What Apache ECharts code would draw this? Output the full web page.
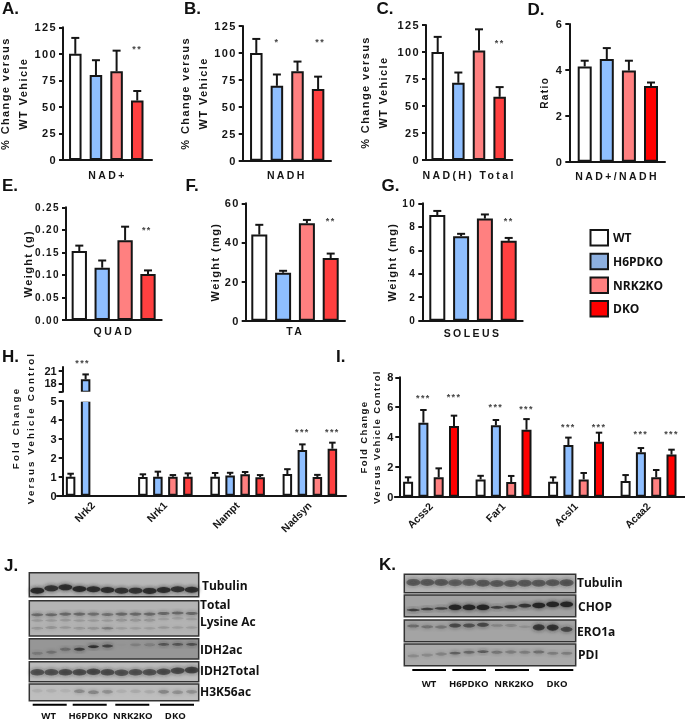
<!DOCTYPE html>
<html><head><meta charset="utf-8">
<style>
html,body{margin:0;padding:0;background:#fff}
#c{width:685px;height:720px;filter:blur(0.3px)}
#c text{letter-spacing:1.4px}
#c text[style*="10.5px"]{letter-spacing:2.4px}
#c text[style*="9.8px"]{letter-spacing:2.1px}
#c text[style*="Arial"],#c text[style*="Open Sans"]{letter-spacing:0}
</style>
<script src="https://cdn.jsdelivr.net/npm/echarts@6/dist/echarts.min.js"></script>
</head><body><div id="c"></div>
<script>
// ---------- data ----------
const genotypes = ['WT','H6PDKO','NRK2KO','DKO'];
const nadPlus = [100,80,83.5,56],     nadPlusTop = [115,94,103,65];
const nadh = [100,69.5,83,66.5],      nadhTop = [113,80,92,78];
const nadTotal = [100,71.5,101.5,58.5], nadTotalTop = [114,81,121,67.5];
const ratio = [4.15,4.47,3.97,3.3],   ratioTop = [4.4,4.95,4.4,3.45];
const quad = [.153,.116,.177,.102],   quadTop = [.165,.132,.207,.11];
const ta = [44,24.5,49.8,32],         taTop = [49,25.5,51.5,34.3];
const soleus = [9,7.2,8.7,6.8],       soleusTop = [9.35,7.4,9.05,7.05];

const genesH = ['Nrk2','Nrk1','Nampt','Nadsyn'];
const hWT  = [1,.99,1,1.14],      hWTTop  = [1.16,1.13,1.2,1.4];
const hH6  = [19,1,1.07,2.41],    hH6Top  = [20.2,1.27,1.21,2.71];
const hNRK = [null,1,1.13,.99],   hNRKTop = [null,1.09,1.25,1.1];
const hDKO = [null,1,.98,2.48],   hDKOTop = [null,1.18,1.09,2.8];

const genesI = ['Acss2','Far1','Acsl1','Acaa2'];
const iWT  = [1,1.16,1,1.05],      iWTTop  = [1.3,1.4,1.3,1.45];
const iH6  = [4.96,4.78,3.46,2.97], iH6Top  = [5.81,5.14,3.96,3.26];
const iNRK = [1.3,.98,1.16,1.3],   iNRKTop = [1.9,1.39,1.59,1.79];
const iDKO = [4.74,4.49,3.69,2.82], iDKOTop = [5.43,5.2,4.29,3.15];

// blot band height-in-box and darkness per lane (12 lanes)
const jTubY=[.75,.65,.61,.68,.69,.72,.75,.75,.76,.72,.69,.71], jTubD=[.9,.8,.85,.9,.85,.85,.8,.8,.85,.85,.8,.85];
const jLys1Y=[.4,.4,.38,.38,.38,.39,.38,.38,.38,.36,.35,.36], jLys1D=[.42,.42,.42,.42,.38,.38,.42,.42,.42,.42,.42,.42];
const jLys2Y=[.56,.56,.55,.56,.56,.56,.55,.55,.55,.52,.5,.52], jLys2D=[.12,.12,.12,.12,.12,.12,.16,.16,.16,.1,.1,.1];
const jLys3Y=[.78,.76,.76,.78,.78,.78,.78,.78,.78,.76,.76,.76], jLys3D=[.15,.18,.13,.15,.18,.3,.1,.1,.1,.13,.1,.1];
const jIdhY=[.72,.66,.52,.52,.39,.36,.3,.3,.3,.28,.28,.28], jIdhD=[.2,.25,.3,.7,.85,.65,.02,.12,.16,.5,.5,.55];
const jTotY=[.53,.53,.53,.53,.5,.53,.55,.53,.53,.5,.45,.42], jTotD=[.55,.55,.58,.58,.6,.58,.55,.55,.55,.58,.6,.65];
const jH3Y=[.4,.4,.4,.44,.5,.46,.44,.44,.46,.46,.5,.46], jH3D=[.06,.06,.05,.25,.28,.22,.06,.08,.08,.28,.22,.22];
const kTubY=[.44,.44,.44,.46,.44,.48,.5,.5,.48,.48,.46,.46], kTubD=[.45,.45,.45,.42,.42,.45,.45,.45,.45,.45,.45,.5];
const kChopY=[.69,.65,.62,.57,.57,.57,.57,.54,.49,.48,.43,.43], kChopD=[.7,.7,.7,.95,.95,.95,.7,.75,.75,.95,.95,.95], kChopH=[2.5,2.5,2.5,5.5,5.5,5.5,2.5,3.5,3.5,5.5,5.5,5.5];
const kEroY=[.28,.31,.32,.25,.25,.22,.25,.25,.31,.34,.35,.43], kEroD=[.35,.3,.28,.6,.55,.6,.2,.18,.1,.7,.75,.6], kEroH=[3,3,3,4,4,4,2.5,2.5,2.5,6,6,5];
const kPdiY=[.55,.51,.46,.42,.38,.35,.38,.37,.38,.37,.43,.43], kPdiD=[.18,.18,.22,.45,.4,.5,.3,.25,.25,.35,.25,.25];

// ---------- style ----------
const COLORS=['#ffffff','#8fbfff','#ff8080','#ff4040'];
const COLORS2=['#ffffff','#8fbfff','#ff8080','#ff0000'];
const INK='#151515';
const SP='"Liberation Sans"', TIGHT='Arial,"Liberation Sans"', LBL='"Open Sans"';

const grid=[],xAxis=[],yAxis=[],series=[],graphic=[];

function errSeries(xi,yi,items,cap,offset){
  series.push({type:'custom',xAxisIndex:xi,yAxisIndex:yi,z:1,silent:true,clip:false,
    encode:{x:0,y:1},data:items,
    renderItem(p,api){
      const off=offset?offset(api.value(3)):0;
      const t=api.coord([api.value(0),api.value(1)]), b=api.coord([api.value(0),api.value(2)]);
      const x=t[0]+off, ls={stroke:INK,lineWidth:2};
      return {type:'group',children:[
        {type:'line',shape:{x1:x,y1:t[1],x2:x,y2:b[1]},style:ls},
        {type:'line',shape:{x1:x-cap/2,y1:t[1],x2:x+cap/2,y2:t[1]},style:ls}]};
    }});
}
function starSeries(xi,yi,items,offset){
  series.push({type:'custom',xAxisIndex:xi,yAxisIndex:yi,z:3,silent:true,clip:false,
    encode:{x:0,y:1},data:items,
    renderItem(p,api){
      const off=offset?offset(api.value(3)):0;
      const c=api.coord([api.value(0),api.value(1)]);
      const s=items[p.dataIndex][2];
      return {type:'text',style:{text:s,x:c[0]+off,y:c[1],align:'center',verticalAlign:'middle',
        fill:'#444',font:'bold 9px '+SP}};
    }});
}
function simplePanel(o){
  const i=grid.length;
  grid.push({outerBoundsMode:'none',left:o.l,top:o.t,width:o.r-o.l,height:o.b-o.t});
  xAxis.push({gridIndex:i,type:'value',containShape:false,min:(o.l-o.c0)/o.step,max:(o.r-o.c0)/o.step,
    axisLine:{show:true,onZero:false,lineStyle:{color:INK,width:2}},axisTick:{show:false},axisLabel:{show:false},splitLine:{show:false},
    name:o.xname,nameLocation:'middle',nameGap:o.xgap,nameTextStyle:{color:INK,fontFamily:SP,fontWeight:'bold',fontSize:10.5}});
  yAxis.push({gridIndex:i,type:'value',min:0,max:o.max,interval:o.int,
    axisLine:{show:true,onZero:false,lineStyle:{color:INK,width:2}},axisTick:{show:true,length:4,lineStyle:{color:INK,width:2}},splitLine:{show:false},
    axisLabel:{color:INK,fontFamily:SP,fontWeight:'bold',fontSize:o.tickSize||11,margin:6,formatter:o.fmt},
    name:o.yname,nameLocation:'middle',nameRotate:90,nameGap:o.ygap,
    nameTextStyle:{color:INK,fontFamily:SP,fontWeight:'bold',fontSize:o.nameSize||11,lineHeight:o.lh||18}});
  errSeries(i,i,o.vals.map((v,k)=>[k,o.tops[k],v]),o.cap||8);
  series.push({type:'bar',name:o.xname,xAxisIndex:i,yAxisIndex:i,z:2,barWidth:o.bw,silent:true,
    data:o.vals.map((v,k)=>({value:[k,v],itemStyle:{color:(o.colors||COLORS)[k],borderColor:INK,borderWidth:2}}))});
  if(o.stars) starSeries(i,i,o.stars);
}
simplePanel({l:63,r:152,t:27.3,b:160,c0:75.3,step:20.65,max:125,int:25,bw:12.5,vals:nadPlus,tops:nadPlusTop,xname:'NAD+',xgap:9,yname:'% Change versus\nWT Vehicle',ygap:31,stars:[[3,104.5,'**']]});
simplePanel({l:242.7,r:331,t:26,b:160.7,c0:256.3,step:20.6,max:125,int:25,bw:12.5,vals:nadh,tops:nadhTop,xname:'NADH',xgap:8.3,yname:'% Change versus\nWT Vehicle',ygap:31,stars:[[1,110,'*'],[3.1,110,'**']]});
simplePanel({l:426,r:512.3,t:25,b:160,c0:437.7,step:20.65,max:125,int:25,bw:12.5,vals:nadTotal,tops:nadTotalTop,xname:'NAD(H) Total',xgap:9,yname:'% Change versus\nWT Vehicle',ygap:34,stars:[[3,108,'**']]});
simplePanel({l:569.3,r:665,t:24,b:161.7,c0:584.7,step:22.1,max:6,int:2,bw:14,vals:ratio,tops:ratioTop,xname:'NAD+/NADH',xgap:8.3,yname:'Ratio',ygap:14,colors:COLORS2,nameSize:10});
simplePanel({l:66,r:161.7,t:207.3,b:320,c0:79.3,step:22.9,max:.25,int:.05,bw:15.3,vals:quad,tops:quadTop,xname:'QUAD',xgap:5.7,yname:'Weight (g)',ygap:28,fmt:v=>v.toFixed(2),stars:[[2.95,.2,'**']],tickSize:10});
simplePanel({l:245.7,r:345,t:203.3,b:320.7,c0:259.3,step:23.8,max:60,int:20,bw:16,vals:ta,tops:taTop,xname:'TA',xgap:5,yname:'Weight (mg)',ygap:20,stars:[[3,51,'**']]});
simplePanel({l:422.3,r:522.7,t:203.3,b:320.7,c0:437.3,step:23.8,max:10,int:2,bw:16,vals:soleus,tops:soleusTop,xname:'SOLEUS',xgap:6.6,yname:'Weight (mg)',ygap:21,stars:[[3,8.5,'**']],tickSize:10});

function groupedPanel(o){
  const i=grid.length;
  grid.push({outerBoundsMode:'none',left:o.l,top:o.t,width:o.w,height:o.h});
  xAxis.push({gridIndex:i,type:'category',data:o.cats,
    axisLine:{lineStyle:{color:INK,width:2}},axisTick:{alignWithLabel:true,length:4,lineStyle:{color:INK,width:2}},
    axisLabel:{rotate:45,color:INK,fontFamily:TIGHT,fontWeight:'bold',fontSize:10.5,margin:8,interval:0}});
  yAxis.push({gridIndex:i,type:'value',min:0,max:o.max,interval:o.int,offset:o.yoff,
    axisLine:{show:true,lineStyle:{color:INK,width:2}},axisTick:{show:true,length:4,lineStyle:{color:INK,width:2}},splitLine:{show:false},
    axisLabel:{color:INK,fontFamily:TIGHT,fontWeight:'bold',fontSize:11,margin:6},
    name:o.yname||'',nameLocation:'middle',nameRotate:90,nameGap:o.ygap||0,
    nameTextStyle:{color:INK,fontFamily:SP,fontWeight:'bold',fontSize:9.5,lineHeight:13.5}});
  const off=s=>(s-1.5)*o.step;
  o.sets.forEach((set,s)=>{
    series.push({type:'bar',name:genotypes[s],xAxisIndex:i,yAxisIndex:i,z:2,silent:true,
      barWidth:o.bw,barGap:o.gap,
      itemStyle:{color:o.colors[s],borderColor:INK,borderWidth:2},data:set});
    const items=[];
    set.forEach((v,c)=>{ if(v!=null && o.tops[s][c]<=o.max) items.push([c,o.tops[s][c],v,s]); });
    errSeries(i,i,items,o.cap,off);
  });
  if(o.stars) starSeries(i,i,o.stars,off);
  return i;
}
groupedPanel({l:57,t:401,w:289,h:94.7,cats:genesH,max:5,int:1,yoff:-5.7,bw:9.5,gap:'58%',step:15,cap:6.5,colors:COLORS,
  sets:[hWT,hH6,hNRK,hDKO],tops:[hWTTop,hH6Top,hNRKTop,hDKOTop],
  stars:[[3,3.38,'***',1],[3,3.38,'***',3]]});
// broken upper segment of panel H
{
  const i=grid.length;
  grid.push({outerBoundsMode:'none',left:57,top:367,width:289,height:24.7});
  xAxis.push({gridIndex:i,type:'category',data:genesH,show:false});
  yAxis.push({gridIndex:i,type:'value',min:16,max:22,offset:-5.7,
    axisLine:{show:true,lineStyle:{color:INK,width:2}},
    axisTick:{show:true,length:4,customValues:[16,18,21],lineStyle:{color:INK,width:2}},splitLine:{show:false},
    axisLabel:{customValues:[18,21],color:INK,fontFamily:TIGHT,fontWeight:'bold',fontSize:11,margin:6}});
  const off=s=>(s-1.5)*15;
  [[null,null,null,null],hH6.map(v=>v>=16?v:null),[null,null,null,null],[null,null,null,null]].forEach((set,s)=>{
    series.push({type:'bar',name:genotypes[s],xAxisIndex:i,yAxisIndex:i,z:2,silent:true,barWidth:9.5,barGap:'58%',
      itemStyle:{color:COLORS[s],borderColor:INK,borderWidth:2},data:set});
  });
  errSeries(i,i,[[0,hH6Top[0],hH6[0],1]],6.5,off);
  starSeries(i,i,[[0,23,'***',0.8]],off);
}
groupedPanel({l:394.8,t:377.3,w:290,h:119.4,cats:genesI,max:8,int:2,yoff:-4.5,bw:10,gap:'53%',step:15.3,cap:6.5,colors:COLORS2,
  sets:[iWT,iH6,iNRK,iDKO],tops:[iWTTop,iH6Top,iNRKTop,iDKOTop],yname:'Fold Change\nVersus Vehicle Control',ygap:15,
  stars:[[0,6.64,'***',1],[0,6.7,'***',3],[1,6.01,'***',1],[1,5.9,'***',3],[2,4.67,'***',1],[2,4.69,'***',3],[3,4.22,'***',1],[3,4.22,'***',3]]});

// ---------- blots ----------
function blot(box,bg,rows,x0,dx,bw){
  const i=grid.length;
  grid.push({outerBoundsMode:'none',show:true,left:box[0],top:box[1],width:box[2]-box[0],height:box[3]-box[1],backgroundColor:bg,borderColor:'#333',borderWidth:1.5});
  xAxis.push({gridIndex:i,type:'value',show:false,min:(box[0]-x0)/dx,max:(box[2]-x0)/dx});
  yAxis.push({gridIndex:i,type:'value',show:false,min:0,max:1,inverse:true});
  rows.forEach(r=>{
    series.push({type:'scatter',xAxisIndex:i,yAxisIndex:i,silent:true,z:2,
      data:r.y.map((y,k)=>({value:[k,y],symbolSize:[bw,Array.isArray(r.h)?r.h[k]:r.h],
        itemStyle:{color:'#222',opacity:r.d[k],shadowBlur:4,shadowColor:'#222'}}))});
  });
}
const JX=37.3,JD=14.04,KX=413.3,KD=13.94;
blot([29.3,572.7,198.7,596.7],'#b8b8b8',[{y:jTubY,d:jTubD,h:6}],JX,JD,14);
blot([29.3,600.7,198.7,636],'#b4b4b4',[{y:jLys1Y,d:jLys1D,h:3},{y:jLys2Y,d:jLys2D,h:2.5},{y:jLys3Y,d:jLys3D,h:2.5}],JX,JD,12);
blot([29.3,638.7,198.7,659],'#969696',[{y:jIdhY,d:jIdhD,h:2.8}],JX,JD,11);
blot([29.3,661.7,198.7,681.7],'#bcbcbc',[{y:jTotY,d:jTotD,h:6.5}],JX,JD,14);
blot([29.3,684,198.7,700.7],'#bebebe',[{y:jH3Y,d:jH3D,h:3.5}],JX,JD,11);
blot([404.3,574.3,575.7,592.7],'#b4b4b4',[{y:kTubY,d:kTubD,h:7}],KX,KD,14);
blot([404.3,595,575.7,616.7],'#a2a2a2',[{y:kChopY,d:kChopD,h:kChopH}],KX,KD,13);
blot([404.3,620,575.7,641.7],'#a4a4a4',[{y:kEroY,d:kEroD,h:kEroH}],KX,KD,12);
blot([404.3,644,575.7,665.7],'#aaaaaa',[{y:kPdiY,d:kPdiD,h:2.8}],KX,KD,11.5);

const lbl=(t,x,y,size,align)=>graphic.push({type:'text',x,y,style:{text:t,fill:'#111',font:'bold '+(size||12)+'px '+LBL,align:align||'left',verticalAlign:'middle'}});
[['Tubulin',202,585],['Total',200,604],['Lysine Ac',200,621],['IDH2ac',200,649],['IDH2Total',200,670],['H3K56ac',200,691],
 ['Tubulin',577,582.7],['CHOP',578,606.7],['ERO1a',577,631.7],['PDI',578,654.3]].forEach(a=>lbl(a[0],a[1],a[2]));
[['WT',48.7,715],['H6PDKO',88.3,715],['NRK2KO',132.7,715],['DKO',175.3,715],
 ['WT',429,683.3],['H6PDKO',468.7,683.3],['NRK2KO',514,683.3],['DKO',557,683.3]].forEach(a=>lbl(a[0],a[1],a[2],9.5,'center'));
[[32.7,66.7,704.7],[72.7,106.7,704.7],[115.3,149.3,704.7],[160,194,704.7],
 [412.3,446,670],[452.3,486,670],[495,529,670],[539.3,573.3,670]].forEach(s=>
  graphic.push({type:'line',shape:{x1:s[0],y1:s[2],x2:s[1],y2:s[2]},style:{stroke:'#000',lineWidth:2}}));

// H y-label (spans both axis segments)
graphic.push({type:'text',x:22.5,y:428,rotation:Math.PI/2,style:{text:'Fold Change\nVersus Vehicle Control',fill:INK,font:'bold 9.8px '+SP,align:'center',verticalAlign:'middle',lineHeight:15}});
// white break across the Nrk2 H6PDKO bar
graphic.push({type:'rect',z:100,shape:{x:77,y:391.7,width:17,height:10},style:{fill:'#fff'}});

// panel letters
const letters=[['A.',2,0],['B.',184,0],['C.',376.5,0],['D.',527.5,1],['E.',2,177],['F.',185.5,177],['G.',381.5,177],['H.',2,348],['I.',336,348],['J.',4,557],['K.',379,556]];
const title=letters.map(l=>({text:l[0],left:l[1],top:l[2],padding:0,textStyle:{fontFamily:TIGHT,fontWeight:'bold',fontSize:17,color:'#111'}}));

const chart=echarts.init(document.getElementById('c'),null,{renderer:'svg',width:685,height:720});
chart.setOption({animation:false,backgroundColor:'#fff',tooltip:{show:false},title,grid,xAxis,yAxis,series,graphic,
  legend:{orient:'vertical',left:589.5,top:229,padding:0,itemWidth:17.5,itemHeight:15.5,itemGap:6.2,selectedMode:false,icon:'rect',
    textStyle:{fontFamily:LBL,fontWeight:'bold',fontSize:12,color:'#111'},
    data:[
      {name:'WT',itemStyle:{color:'#fff',borderColor:INK,borderWidth:2}},
      {name:'H6PDKO',itemStyle:{color:'#8db0e0',borderColor:INK,borderWidth:2}},
      {name:'NRK2KO',itemStyle:{color:'#ff8080',borderColor:INK,borderWidth:2}},
      {name:'DKO',itemStyle:{color:'#ff0000',borderColor:INK,borderWidth:2}}]}
});
</script></body></html>
